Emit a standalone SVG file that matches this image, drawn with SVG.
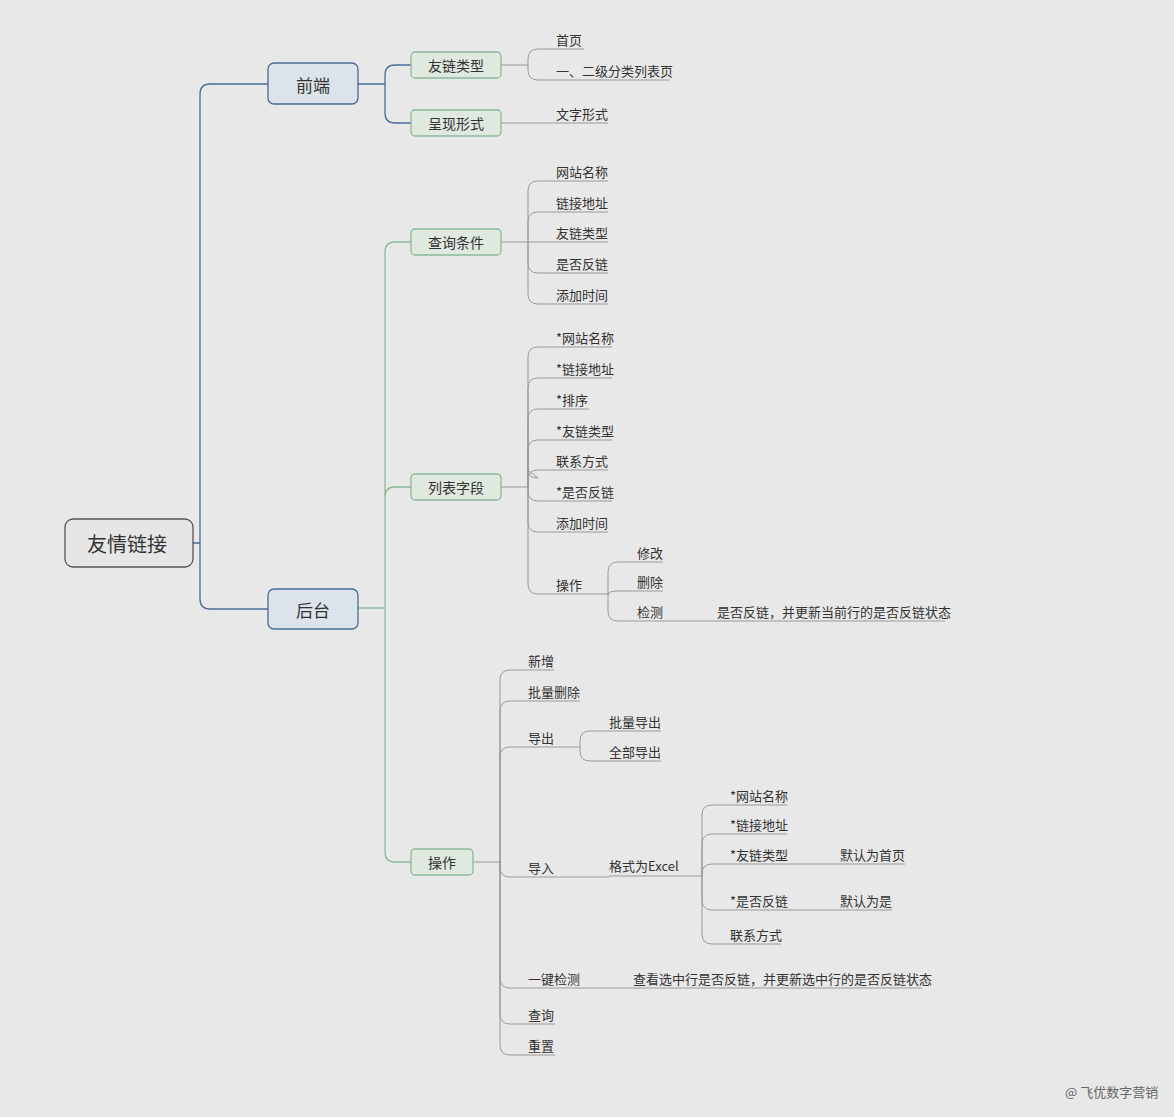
<svg xmlns="http://www.w3.org/2000/svg" width="1174" height="1117" viewBox="0 0 1174 1117">
<style>
text{font-family:"Noto Sans CJK SC","Liberation Sans",sans-serif;fill:#333}
.l{font-size:13px}
.m{font-size:14px;text-anchor:middle;dominant-baseline:central}
.c path{fill:none}
.b{stroke:#4a6c96;stroke-width:1.3}
.g{stroke:#8fb89a;stroke-width:1.3}
.y{stroke:#999;stroke-width:1}
.n2{fill:#dfe9e0;stroke:#8fb89a;stroke-width:1.3}
.n1{fill:#dce3ea;stroke:#4a6c96;stroke-width:1.3}
</style>
<rect width="1174" height="1117" fill="#e8e8e8"/>
<g class="c" id="connectors">
<path class="b" d="M193,543 H200 M200,543 V94 Q200,84 210,84 H268 M200,543 V599 Q200,609 210,609 H268"/>
<path class="b" d="M358,84 H385 M385,84 V75 Q385,65 395,65 H411 M385,84 V113 Q385,123 395,123 H411"/>
<path class="g" d="M358,608 H385 M385,608 V252 Q385,242 395,242 H411 M385,608 V497 Q385,487 395,487 H411 M385,608 V852 Q385,862 395,862 H411"/>
<path class="y" d="M501,65 H528 M528,65 V59 Q528,49 538,49 H584 M528,65 V70 Q528,80 538,80 H670"/>
<path class="y" d="M501,123 H608"/>
<path class="y" d="M501,242 H608 M528,242 V191 Q528,181 538,181 H608 M528,242 V222 Q528,212 538,212 H608 M528,242 V263 Q528,273 538,273 H608 M528,242 V294 Q528,304 538,304 H608"/>
<path class="y" d="M501,487 H528 M528,487 V357 Q528,347 538,347 H612 M528,487 V388 Q528,378 538,378 H612 M528,487 V419 Q528,409 538,409 H589 M528,487 V450 Q528,440 538,440 H612 M528,487 V470 Q528,478 538,478 Q528,470 528,470 M528,487 V480 Q528,470 538,470 H608 M528,487 V491 Q528,501 538,501 H612 M528,487 V522 Q528,532 538,532 H608 M528,487 V584 Q528,594 538,594 H608"/>
<path class="y" d="M608,594 V572 Q608,562 618,562 H663 M608,594 V595 Q608,591 618,591 H663 M608,594 V611 Q608,621 618,621 H945"/>
<path class="y" d="M473,862 H500 M500,862 V680 Q500,670 510,670 H554 M500,862 V711 Q500,701 510,701 H580 M500,862 V757 Q500,747 510,747 H580 M500,862 V867 Q500,877 510,877 H609 M500,862 V978 Q500,988 510,988 H922 M500,862 V1014 Q500,1024 510,1024 H555 M500,862 V1045 Q500,1055 510,1055 H555"/>
<path class="y" d="M580,747 V741 Q580,731 590,731 H661 M580,747 V751 Q580,761 590,761 H661"/>
<path class="y" d="M609,876 H702 M702,876 V815 Q702,805 712,805 H787 M702,876 V844 Q702,834 712,834 H787 M702,876 V874 Q702,864 712,864 H905 M702,876 V900 Q702,910 712,910 H892 M702,876 V934 Q702,944 712,944 H781"/>
</g>
<g id="root"><rect x="65" y="519" width="128" height="48" rx="8" fill="#e6e6e6" stroke="#555" stroke-width="1.3"/><text x="127" y="543" style="font-size:20px;text-anchor:middle;dominant-baseline:central">友情链接</text></g>
<g id="qianduan"><rect class="n1" x="268" y="63" width="90" height="41" rx="6"/><text class="m" x="313" y="84" style="font-size:17px">前端</text></g>
<g id="houtai"><rect class="n1" x="268" y="589" width="90" height="40" rx="6"/><text class="m" x="313" y="609" style="font-size:17px">后台</text></g>
<g id="youlian"><rect class="n2" x="411" y="52" width="90" height="26" rx="4"/><text class="m" x="456" y="65">友链类型</text></g>
<g id="chengxian"><rect class="n2" x="411" y="110" width="90" height="26" rx="4"/><text class="m" x="456" y="123">呈现形式</text></g>
<g id="chaxun"><rect class="n2" x="411" y="229" width="90" height="26" rx="4"/><text class="m" x="456" y="242">查询条件</text></g>
<g id="liebiao"><rect class="n2" x="411" y="474" width="90" height="26" rx="4"/><text class="m" x="456" y="487">列表字段</text></g>
<g id="caozuo"><rect class="n2" x="411" y="849" width="62" height="26" rx="4"/><text class="m" x="442" y="862">操作</text></g>
<g id="leaves" class="l">
<text class="l" x="556" y="45">首页</text>
<text class="l" x="556" y="76">一、二级分类列表页</text>
<text class="l" x="556" y="119">文字形式</text>
<text class="l" x="556" y="177">网站名称</text>
<text class="l" x="556" y="208">链接地址</text>
<text class="l" x="556" y="238">友链类型</text>
<text class="l" x="556" y="269">是否反链</text>
<text class="l" x="556" y="300">添加时间</text>
<text class="l" x="556" y="343">*网站名称</text>
<text class="l" x="556" y="374">*链接地址</text>
<text class="l" x="556" y="405">*排序</text>
<text class="l" x="556" y="436">*友链类型</text>
<text class="l" x="556" y="466">联系方式</text>
<text class="l" x="556" y="497">*是否反链</text>
<text class="l" x="556" y="528">添加时间</text>
<text class="l" x="556" y="590">操作</text>
<text class="l" x="637" y="558">修改</text>
<text class="l" x="637" y="587">删除</text>
<text class="l" x="637" y="617">检测</text>
<text class="l" x="717" y="617">是否反链，并更新当前行的是否反链状态</text>
<text class="l" x="528" y="666">新增</text>
<text class="l" x="528" y="697">批量删除</text>
<text class="l" x="528" y="743">导出</text>
<text class="l" x="609" y="727">批量导出</text>
<text class="l" x="609" y="757">全部导出</text>
<text class="l" x="528" y="873">导入</text>
<text class="l" x="609" y="871">格式为Excel</text>
<text class="l" x="730" y="801">*网站名称</text>
<text class="l" x="730" y="830">*链接地址</text>
<text class="l" x="730" y="860">*友链类型</text>
<text class="l" x="840" y="860">默认为首页</text>
<text class="l" x="730" y="906">*是否反链</text>
<text class="l" x="840" y="906">默认为是</text>
<text class="l" x="730" y="940">联系方式</text>
<text class="l" x="528" y="984">一键检测</text>
<text class="l" x="633" y="984">查看选中行是否反链，并更新选中行的是否反链状态</text>
<text class="l" x="528" y="1020">查询</text>
<text class="l" x="528" y="1051">重置</text>
</g>
<text x="1065" y="1097" style="font-size:13px;fill:#666">@ 飞优数字营销</text>
</svg>
